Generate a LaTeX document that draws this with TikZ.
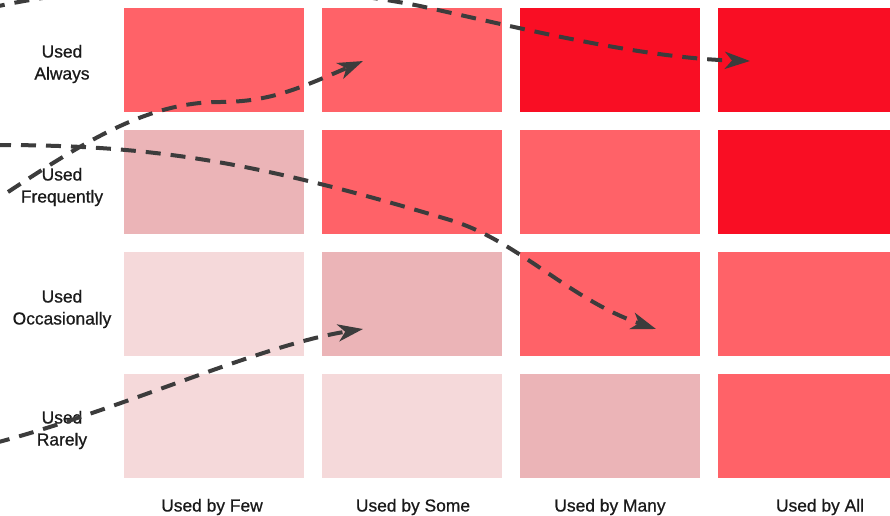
\documentclass[tikz,border=0pt]{standalone}
\usepackage{fontspec}
\setmainfont{Liberation Sans}
\newfontfamily\axisfont{Liberation Sans}[FakeBold=0.7]
\usetikzlibrary{arrows.meta}

\definecolor{heatHigh}{HTML}{F90E24}
\definecolor{heatMid}{HTML}{FF6268}
\definecolor{heatLow}{HTML}{EBB4B7}
\definecolor{heatMin}{HTML}{F5D9DA}
\definecolor{pathGray}{HTML}{3C3C3C}
\definecolor{labelInk}{HTML}{1A1A1A}

\tikzset{
  cell/.style={rectangle, inner sep=0pt, minimum width=90pt, minimum height=52pt, draw=none},
  axislabel/.style={font=\axisfont\fontsize{8.7pt}{11pt}\selectfont, text=labelInk, align=center, inner sep=0pt},
  journey/.style={draw=pathGray, line width=2pt, dash pattern=on 7.5pt off 5pt,
    -{Stealth[length=12.5pt, width=8.5pt, inset=3.5pt]}}
}

\begin{document}
\begin{tikzpicture}[x=0.5pt, y=-0.5pt]
  \clip (0,0) rectangle (890,515);
  \fill[white] (0,0) rectangle (890,515);

  % heat-map cells: row 1 = used always ... row 4 = used rarely
  \node[cell, fill=heatMid]  (c11) at (214,60)  {};
  \node[cell, fill=heatMid]  (c12) at (412,60)  {};
  \node[cell, fill=heatHigh] (c13) at (610,60)  {};
  \node[cell, fill=heatHigh] (c14) at (808,60)  {};

  \node[cell, fill=heatLow]  (c21) at (214,182) {};
  \node[cell, fill=heatMid]  (c22) at (412,182) {};
  \node[cell, fill=heatMid]  (c23) at (610,182) {};
  \node[cell, fill=heatHigh] (c24) at (808,182) {};

  \node[cell, fill=heatMin]  (c31) at (214,304) {};
  \node[cell, fill=heatLow]  (c32) at (412,304) {};
  \node[cell, fill=heatMid]  (c33) at (610,304) {};
  \node[cell, fill=heatMid]  (c34) at (808,304) {};

  \node[cell, fill=heatMin]  (c41) at (214,426) {};
  \node[cell, fill=heatMin]  (c42) at (412,426) {};
  \node[cell, fill=heatLow]  (c43) at (610,426) {};
  \node[cell, fill=heatMid]  (c44) at (808,426) {};

  % row labels
  \node[axislabel] (rAlways) at (62,64)  {Used\\Always};
  \node[axislabel] (rFreq)   at (62,187) {Used\\Frequently};
  \node[axislabel] (rOcc)    at (62,309) {Used\\Occasionally};
  \node[axislabel] (rRare)   at (62,430) {Used\\Rarely};

  % column labels
  \node[axislabel] (kFew)  at (212,507) {Used by Few};
  \node[axislabel] (kSome) at (413,507) {Used by Some};
  \node[axislabel] (kMany) at (610,507) {Used by Many};
  \node[axislabel] (kAll)  at (820,507) {Used by All};

  % movement paths
  \coordinate (p1s) at (8,192);
  \coordinate (p1m) at (220,102);
  \coordinate (p1e) at (363,61);
  \draw[journey] (p1s) .. controls (90,138) and (150,102) .. (p1m)
                       .. controls (270,102) and (300,88) .. (p1e);

  \coordinate (p2s) at (-4,145);
  \coordinate (p2m) at (450,220);
  \coordinate (p2e) at (656,329);
  \draw[journey] (p2s) .. controls (150,145) and (250,160) .. (p2m)
                       .. controls (517,240) and (570,300) .. (p2e);

  \coordinate (p3s) at (-10,8);
  \coordinate (p3m) at (420,6);
  \coordinate (p3e) at (750,61);
  \draw[journey] (p3s) .. controls (100,-18) and (280,-22) .. (p3m)
                       .. controls (520,28) and (640,58) .. (p3e);

  \coordinate (p4s) at (-5,443);
  \coordinate (p4e) at (363,329);
  \draw[journey] (p4s) .. controls (120,410) and (260,345) .. (p4e);
\end{tikzpicture}
\end{document}
